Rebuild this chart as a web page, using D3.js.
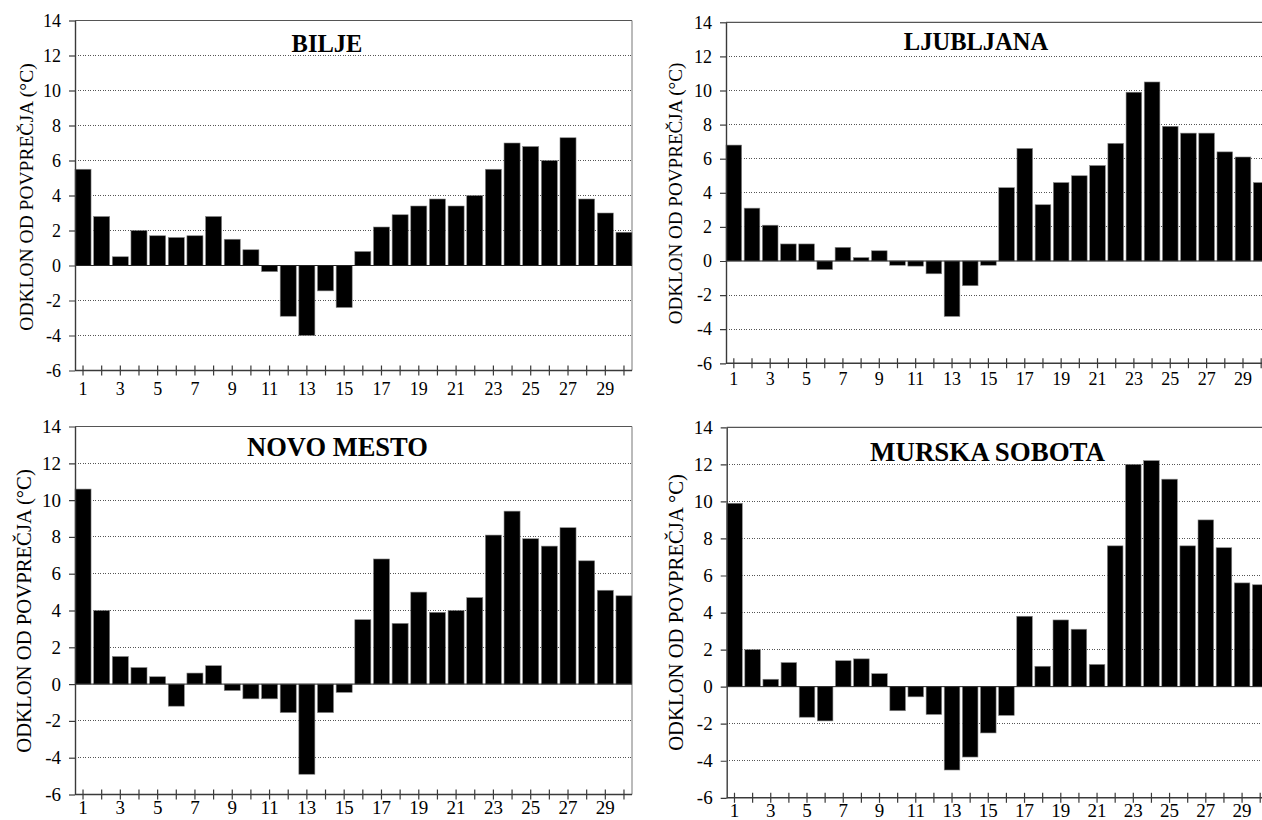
<!DOCTYPE html>
<html>
<head>
<meta charset="utf-8">
<script src="https://cdn.jsdelivr.net/npm/d3@7/dist/d3.min.js"></script>
</head>
<body style="margin:0">
<svg id="chart" width="1262" height="820"></svg>
<script>
// Days of the month shown on the category axis
const days = [1, 2, 3, 4, 5, 6, 7, 8, 9, 10, 11, 12, 13, 14, 15,
              16, 17, 18, 19, 20, 21, 22, 23, 24, 25, 26, 27, 28, 29, 30];
const dayLabels = [1, 3, 5, 7, 9, 11, 13, 15, 17, 19, 21, 23, 25, 27, 29];
const yTickValues = [-6, -4, -2, 0, 2, 4, 6, 8, 10, 12, 14];

// Daily deviation from the long-term mean (°C)
const bilje = [5.5, 2.8, 0.5, 2.0, 1.7, 1.6, 1.7, 2.8, 1.5, 0.9,
               -0.35, -2.9, -4.0, -1.45, -2.4, 0.8, 2.2, 2.9, 3.4, 3.8,
               3.4, 4.0, 5.5, 7.0, 6.8, 6.0, 7.3, 3.8, 3.0, 1.9];
const ljubljana = [6.8, 3.1, 2.1, 1.0, 1.0, -0.5, 0.8, 0.2, 0.6, -0.25,
                   -0.3, -0.75, -3.25, -1.45, -0.25, 4.3, 6.6, 3.3, 4.6, 5.0,
                   5.6, 6.9, 9.9, 10.5, 7.9, 7.5, 7.5, 6.4, 6.1, 4.6];
const novoMesto = [10.6, 4.0, 1.5, 0.9, 0.4, -1.2, 0.6, 1.0, -0.35, -0.8,
                   -0.8, -1.55, -4.9, -1.55, -0.45, 3.5, 6.8, 3.3, 5.0, 3.9,
                   4.0, 4.7, 8.1, 9.4, 7.9, 7.5, 8.5, 6.7, 5.1, 4.8];
const murskaSobota = [9.9, 2.0, 0.4, 1.3, -1.65, -1.85, 1.4, 1.5, 0.7, -1.3,
                      -0.55, -1.5, -4.5, -3.8, -2.5, -1.55, 3.8, 1.1, 3.6, 3.1,
                      1.2, 7.6, 12.0, 12.2, 11.2, 7.6, 9.0, 7.5, 5.6, 5.5];

const stationNames = ["BILJE", "LJUBLJANA", "NOVO MESTO", "MURSKA SOBOTA"];
const stationValues = [bilje, ljubljana, novoMesto, murskaSobota];
const yTitles = ["ODKLON OD POVPREČJA (°C)", "ODKLON OD POVPREČJA (°C)",
                 "ODKLON OD POVPREČJA (°C)", "ODKLON OD POVPREČJA °C)"];

// Geometry of the four plot areas
const layout = [
  { x0: 75,  x1: 632,  y0: 20.5,  y1: 370.5, border: true,
    titleX: 327, titleY: 51.5, titleSize: 24.5, tickSize: 18,
    yTitleX: 33, yTitleY: 197, yTitleSize: 19.5, xLabelDy: 24 },
  { x0: 726, x1: 1269, y0: 22.3,  y1: 363.3, border: false,
    titleX: 976, titleY: 50, titleSize: 24.5, tickSize: 18,
    yTitleX: 682, yTitleY: 193.5, yTitleSize: 19.1, xLabelDy: 21.5 },
  { x0: 75,  x1: 632,  y0: 426.5, y1: 794.5, border: true,
    titleX: 337.5, titleY: 455.5, titleSize: 26.5, tickSize: 19,
    yTitleX: 31, yTitleY: 611, yTitleSize: 20.7, xLabelDy: 19 },
  { x0: 726.7, x1: 1268, y0: 427.3, y1: 797.8, border: false,
    titleX: 987.5, titleY: 460.5, titleSize: 26.9, tickSize: 19,
    yTitleX: 683, yTitleY: 612.5, yTitleSize: 20.7, xLabelDy: 19 }
];

const serifFace = "Liberation Serif";
const svg = d3.select("#chart").attr("font-family", serifFace);
const defs = svg.append("defs");
const axisColor = "#3a3a3a";

function serif(sel, size) {
  sel.attr("font-family", serifFace)
     .style("font-family", serifFace)
     .attr("font-size", size);
}

layout.forEach((p, i) => {
  const values = stationValues[i];
  const clipId = "clip-" + i;
  defs.append("clipPath").attr("id", clipId)
    .append("rect")
    .attr("x", p.x0 - 80).attr("y", p.y0 - 30)
    .attr("width", (p.border ? p.x1 + 1 : 1262) - (p.x0 - 80))
    .attr("height", (p.y1 - p.y0) + 80);

  const g = svg.append("g").attr("clip-path", `url(#${clipId})`);

  const x = d3.scaleBand().domain(days).range([p.x0, p.x1])
    .paddingInner(0.14).paddingOuter(0);
  const y = d3.scaleLinear().domain([-6, 14]).range([p.y1, p.y0]);

  // dotted horizontal gridlines
  g.append("g").selectAll("line")
    .data(yTickValues.filter(v => v > -6 && v < 14 && v !== 0))
    .join("line")
    .attr("x1", p.x0).attr("x2", p.x1)
    .attr("y1", d => y(d)).attr("y2", d => y(d))
    .attr("stroke", "#555").attr("stroke-width", 1)
    .attr("stroke-dasharray", "1,1.5")
    .attr("shape-rendering", "crispEdges");

  // top frame line and right frame line
  g.append("line")
    .attr("x1", p.x0).attr("x2", p.x1)
    .attr("y1", y(14)).attr("y2", y(14))
    .attr("stroke", "#555").attr("stroke-width", 1.2);
  if (p.border) {
    g.append("line")
      .attr("x1", p.x1).attr("x2", p.x1)
      .attr("y1", y(14)).attr("y2", y(-6))
      .attr("stroke", "#777").attr("stroke-width", 1);
  }

  // bars
  g.append("g").selectAll("rect")
    .data(values)
    .join("rect")
    .attr("x", (d, k) => x(days[k]))
    .attr("width", x.bandwidth())
    .attr("y", d => y(Math.max(0, d)))
    .attr("height", d => Math.abs(y(d) - y(0)))
    .attr("fill", "#000")
    .attr("stroke", "#888").attr("stroke-width", 0.6);

  // zero line
  g.append("line")
    .attr("x1", p.x0).attr("x2", p.x1)
    .attr("y1", y(0)).attr("y2", y(0))
    .attr("stroke", "#222").attr("stroke-width", 1);

  // value axis
  const yAxis = g.append("g")
    .attr("transform", `translate(${p.x0},0)`)
    .call(d3.axisLeft(y).tickValues(yTickValues).tickSize(6).tickPadding(8)
      .tickSizeOuter(0).tickFormat(d => String(d)));
  serif(yAxis, p.tickSize);
  yAxis.select(".domain").attr("stroke", axisColor).attr("stroke-width", 1.4);
  yAxis.selectAll(".tick line").attr("stroke", axisColor).attr("stroke-width", 1.2);
  serif(yAxis.selectAll("text").attr("fill", "#000"), p.tickSize);

  // category axis at the bottom of the plot, ticks crossing the line
  const xAxis = g.append("g")
    .attr("transform", `translate(0,${p.y1})`)
    .call(d3.axisBottom(x).tickSize(5).tickSizeOuter(0)
      .tickFormat(d => dayLabels.includes(d) ? String(d) : ""));
  serif(xAxis, p.tickSize);
  xAxis.select(".domain")
    .attr("d", `M${p.x0},0H${p.x1}`)
    .attr("stroke", axisColor).attr("stroke-width", 1.4);
  xAxis.selectAll(".tick line")
    .attr("y1", -5).attr("y2", 5)
    .attr("stroke", axisColor).attr("stroke-width", 1.2);
  serif(xAxis.selectAll("text")
    .attr("y", p.xLabelDy).attr("dy", null)
    .attr("fill", "#000"), p.tickSize);

  // station name
  const title = svg.append("text")
    .attr("x", p.titleX).attr("y", p.titleY)
    .attr("text-anchor", "middle")
    .attr("font-weight", "bold")
    .attr("fill", "#000")
    .text(stationNames[i]);
  serif(title, p.titleSize);

  // value axis title
  const yTitle = svg.append("text")
    .attr("transform", `translate(${p.yTitleX},${p.yTitleY}) rotate(-90)`)
    .attr("text-anchor", "middle")
    .attr("fill", "#000")
    .text(yTitles[i]);
  serif(yTitle, p.yTitleSize);
});
</script>
</body>
</html>
